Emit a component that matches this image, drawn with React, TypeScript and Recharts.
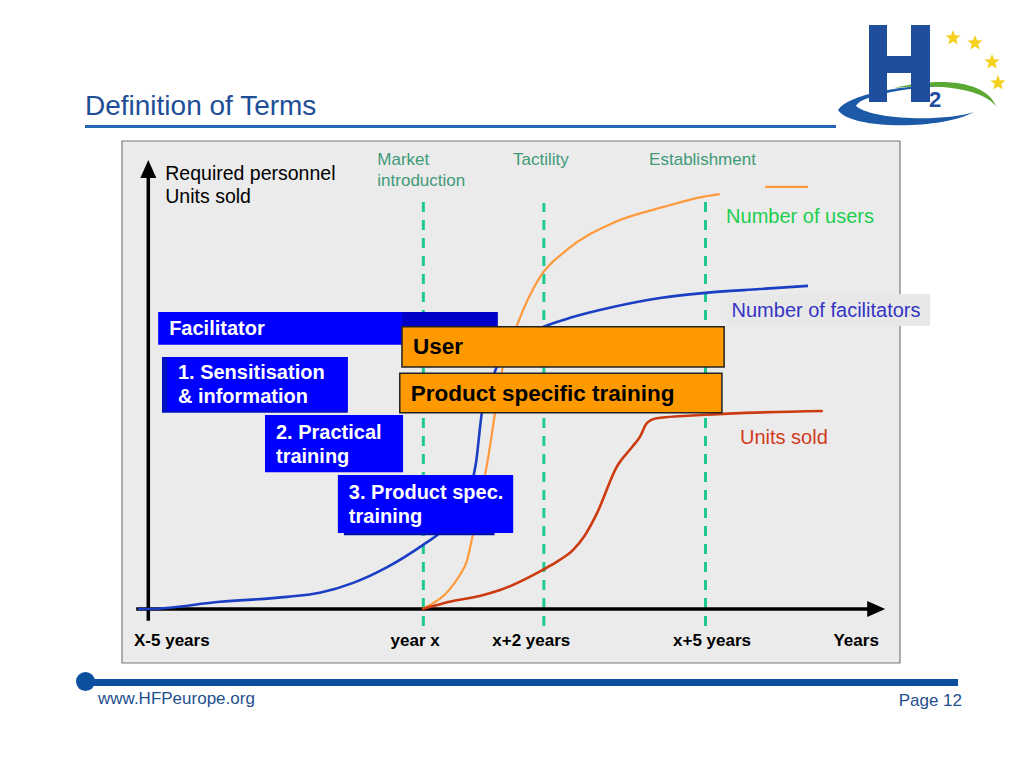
import React from "react";
import {
  ComposedChart,
  Line,
  XAxis,
  YAxis,
  ReferenceArea,
  ReferenceLine,
  ReferenceDot,
} from "recharts";

// x = years relative to market introduction (year x = 0), y = relative amount
const facilitators = [
  { x: -5.21, y: 0 }, { x: -5.04, y: 0 }, { x: -3.71, y: 1.6 }, { x: -2.49, y: 2.7 },
  { x: -1.89, y: 3.6 }, { x: -1.28, y: 5.8 }, { x: -0.66, y: 9.3 }, { x: -0.01, y: 14.2 },
  { x: 0.3, y: 16.9 }, { x: 0.63, y: 20.9 }, { x: 0.85, y: 26.4 }, { x: 0.96, y: 32.4 },
  { x: 1.07, y: 43.8 }, { x: 1.22, y: 49.8 }, { x: 1.34, y: 53.8 }, { x: 1.67, y: 59.3 },
  { x: 2.13, y: 62.4 }, { x: 2.68, y: 64.7 }, { x: 3.46, y: 67.1 }, { x: 4.32, y: 69.1 },
  { x: 5.1, y: 70.2 }, { x: 6.14, y: 71.1 }, { x: 7.02, y: 71.8 },
];

const users = [
  { x: -0.02, y: 0 }, { x: 0.18, y: 1.3 }, { x: 0.4, y: 3.3 }, { x: 0.54, y: 5.3 },
  { x: 0.67, y: 7.6 }, { x: 0.8, y: 10.9 }, { x: 0.91, y: 16.9 }, { x: 1.03, y: 24.2 },
  { x: 1.16, y: 32 }, { x: 1.31, y: 43.6 }, { x: 1.45, y: 53.8 }, { x: 1.71, y: 63.1 },
  { x: 2.13, y: 73.8 }, { x: 2.62, y: 79.8 }, { x: 3.46, y: 85.8 }, { x: 4.37, y: 89.3 },
  { x: 5.1, y: 91.6 }, { x: 5.41, y: 92.2 },
];

const usersTail = [
  { x: 6.24, y: 93.8 }, { x: 7.02, y: 93.8 },
];

const unitsSold = [
  { x: -0.02, y: 0 }, { x: 0.54, y: 1.8 }, { x: 1.03, y: 2.9 }, { x: 1.4, y: 4.2 },
  { x: 2.18, y: 8.7 }, { x: 2.49, y: 10.9 }, { x: 2.73, y: 13.1 }, { x: 2.95, y: 16.4 },
  { x: 3.17, y: 21.3 }, { x: 3.53, y: 31.6 }, { x: 3.81, y: 36 }, { x: 3.95, y: 38.2 },
  { x: 4.08, y: 41.3 }, { x: 4.26, y: 42.4 }, { x: 5.05, y: 43.1 }, { x: 7.29, y: 44 },
];

const phases = [
  { name: ["Market", "introduction"], x: 0, top: 92 },
  { name: ["Tactility"], x: 2.2, top: 90.2 },
  { name: ["Establishment"], x: 5.15, top: 92 },
];

const tickYears = [-4.59, -0.15, 1.97, 5.27, 7.9];
const tickLabels = ["X-5 years", "year x", "x+2 years", "x+5 years", "Years"];

// training blocks: start/end in years, bottom/top in relative amount
const facilitatorBlocks = [
  { label: ["Facilitator"], x1: -4.84, x2: -0.39, y1: 58.7, y2: 66 },
  { label: ["1. Sensitisation", "& information"], x1: -4.77, x2: -1.38, y1: 43.6, y2: 56 },
  { label: ["2. Practical", "training"], x1: -2.89, x2: -0.37, y1: 30.4, y2: 43.1 },
  { label: ["3. Product spec.", "training"], x1: -1.56, x2: 1.64, y1: 16.9, y2: 29.8 },
];

const userBlocks = [
  { label: ["User"], x1: -0.39, x2: 5.49, y1: 53.8, y2: 62.7 },
  { label: ["Product specific training"], x1: -0.43, x2: 5.45, y1: 43.6, y2: 52.4 },
];

const FONT = "'Liberation Sans', Arial, Helvetica, sans-serif";
const TEAL = "#20c990";

function ArrowLine(props: any) {
  const { x1, y1, x2, y2 } = props;
  const dx = x2 - x1;
  const dy = y2 - y1;
  const len = Math.sqrt(dx * dx + dy * dy) || 1;
  const ux = dx / len;
  const uy = dy / len;
  const head = 18;
  const half = 8;
  const bx = x2 - ux * head;
  const by = y2 - uy * head;
  return (
    <g>
      <line x1={x1} y1={y1} x2={bx + ux} y2={by + uy} stroke="#000" strokeWidth={3.5} />
      <polygon
        points={`${x2},${y2} ${bx - uy * half},${by + ux * half} ${bx + uy * half},${by - ux * half}`}
        fill="#000"
      />
    </g>
  );
}

function BlockLabel(props: any) {
  const { viewBox, lines, color, size, dx } = props;
  if (!viewBox) return null;
  const { x, y, height } = viewBox;
  const gap = 24;
  const startY = y + height / 2 - ((lines.length - 1) * gap) / 2;
  return (
    <text fontFamily={FONT} fontWeight="bold" fontSize={size} fill={color}>
      {lines.map((l: string, i: number) => (
        <tspan key={i} x={x + dx} y={startY + i * gap} dominantBaseline="central">
          {l}
        </tspan>
      ))}
    </text>
  );
}

function PhaseLabel(props: any) {
  const { viewBox, lines, dx, dy } = props;
  if (!viewBox) return null;
  const { x, y } = viewBox;
  const anchor = lines.length > 1 ? "start" : "middle";
  return (
    <text fontFamily={FONT} fontSize={17} fill="#3f9a78" textAnchor={anchor}>
      {lines.map((l: string, i: number) => (
        <tspan key={i} x={x + dx} y={y - dy + i * 21} dominantBaseline="central">
          {l}
        </tspan>
      ))}
    </text>
  );
}

function YearLabel(props: any) {
  const { viewBox, text } = props;
  if (!viewBox) return null;
  const cx = viewBox.x + viewBox.width / 2;
  const cy = viewBox.y + viewBox.height / 2;
  return (
    <text x={cx} y={cy} textAnchor="middle" dominantBaseline="central" fontFamily={FONT} fontWeight="bold" fontSize={17} fill="#000">
      {text}
    </text>
  );
}

function AxisTitle(props: any) {
  const { viewBox } = props;
  if (!viewBox) return null;
  const { x, y } = viewBox;
  return (
    <text fontFamily={FONT} fontSize={19.5} fill="#000">
      <tspan x={x} y={y} dominantBaseline="central">Required personnel</tspan>
      <tspan x={x} y={y + 23} dominantBaseline="central">Units sold</tspan>
    </text>
  );
}

function Logo() {
  const stars = [
    [129, 30],
    [151, 35],
    [168, 54],
    [174, 75],
  ];
  return (
    <svg width={200} height={130} style={{ position: "absolute", left: 824, top: 8 }}>
      <path d="M 14 102 C 26 84, 90 76, 120 78 C 80 80, 36 88, 32 98 C 48 112, 120 114, 150 104 C 118 122, 26 122, 14 102 Z" fill="#1c5aa8" />
      <path d="M 70 80 C 120 68, 162 74, 172 98 C 156 80, 116 76, 70 80 Z" fill="#5aa832" />
      <rect x={45} y={17} width={18} height={77} fill="#1f4f9c" />
      <rect x={87} y={17} width={19} height={77} fill="#1f4f9c" />
      <rect x={59} y={48} width={32} height={17} fill="#1f4f9c" />
      <text x={105} y={99} fontFamily={FONT} fontWeight="bold" fontSize={22} fill="#1f4f9c">2</text>
      {stars.map(([cx, cy], i) => (
        <polygon
          key={i}
          fill="#f5d01e"
          points={Array.from({ length: 10 }, (_, k) => {
            const r = k % 2 === 0 ? 8 : 3.4;
            const a = -Math.PI / 2 + (k * Math.PI) / 5;
            return `${cx + r * Math.cos(a)},${cy + r * Math.sin(a)}`;
          }).join(" ")}
        />
      ))}
    </svg>
  );
}

export default function App() {
  return (
    <div style={{ position: "absolute", left: 0, top: 0, width: 1024, height: 768, background: "#fff", fontFamily: FONT }}>
      <div style={{ position: "absolute", left: 85, top: 90, fontSize: 28, color: "#1d4e96" }}>Definition of Terms</div>
      <div style={{ position: "absolute", left: 85, top: 125, width: 751, height: 3, background: "#2865b4" }} />
      <Logo />

      <ComposedChart
        width={1024}
        height={768}
        margin={{ top: 141, right: 124, bottom: 105, left: 122 }}
        style={{ position: "absolute", left: 0, top: 0 }}
      >
        <XAxis type="number" dataKey="x" domain={[-5.5, 8.7]} allowDataOverflow hide />
        <YAxis type="number" domain={[-12, 104]} allowDataOverflow hide />

        <ReferenceArea x1={-5.5} x2={8.7} y1={-12} y2={104} fill="#ebebeb" fillOpacity={1} stroke="#7a7a7a" strokeWidth={1.2} ifOverflow="visible" zIndex={-200} />
        <ReferenceArea x1={5.54} x2={9.25} y1={62.9} y2={70} fill="#e8e8e8" fillOpacity={1} stroke="none" ifOverflow="visible" zIndex={-150} />

        {phases.map((p, i) => (
          <ReferenceLine
            key={p.x}
            segment={[{ x: p.x, y: -3.8 }, { x: p.x, y: p.top }]}
            stroke={TEAL}
            strokeWidth={3}
            strokeDasharray="10 8"
            ifOverflow="visible"
            label={<PhaseLabel lines={p.name} dx={i === 0 ? -46 : -3} dy={i === 1 ? 44 : 36} />}
          />
        ))}

        <ReferenceLine segment={[{ x: -5.24, y: 0 }, { x: 8.43, y: 0 }]} ifOverflow="visible" shape={ArrowLine} />
        <ReferenceLine segment={[{ x: -5.02, y: -2.6 }, { x: -5.02, y: 99.8 }]} ifOverflow="visible" shape={ArrowLine} />

        <Line data={facilitators} dataKey="y" type="monotone" stroke="#1a3ec4" strokeWidth={2.6} dot={false} isAnimationActive={false} />
        <Line data={users} dataKey="y" type="monotone" stroke="#ff9a3c" strokeWidth={2.2} dot={false} isAnimationActive={false} />
        <Line data={usersTail} dataKey="y" type="linear" stroke="#ff9a3c" strokeWidth={2.2} dot={false} isAnimationActive={false} />
        <Line data={unitsSold} dataKey="y" type="monotone" stroke="#cc3a10" strokeWidth={2.6} dot={false} isAnimationActive={false} />

        {/* darker shading behind the blue blocks */}
        <ReferenceArea x1={-0.39} x2={1.36} y1={58.7} y2={66} fill="#0000c8" fillOpacity={1} stroke="none" zIndex={1500} />
        <ReferenceArea x1={-4.77} x2={-1.38} y1={43.6} y2={56} fill="#0010c0" fillOpacity={1} stroke="none" zIndex={1500} />
        <ReferenceArea x1={-1.45} x2={1.3} y1={16.4} y2={17.5} fill="#0010b0" fillOpacity={1} stroke="none" zIndex={1500} />
        {facilitatorBlocks.map((b, i) => (
          <ReferenceArea
            key={"f" + i}
            x1={i === 1 ? b.x1 + 0.09 : b.x1}
            x2={b.x2}
            y1={i === 1 ? b.y1 + 0.4 : b.y1}
            y2={b.y2}
            fill="#0000ff"
            fillOpacity={1}
            stroke="none"
            zIndex={1510}
            label={<BlockLabel lines={b.label} color="#fff" size={20} dx={11} />}
          />
        ))}
        {userBlocks.map((b, i) => (
          <ReferenceArea
            key={"u" + i}
            x1={b.x1}
            x2={b.x2}
            y1={b.y1}
            y2={b.y2}
            fill="#ff9900"
            fillOpacity={1}
            stroke="#222"
            strokeWidth={1.5}
            zIndex={1600}
            label={<BlockLabel lines={b.label} color="#000" size={22.5} dx={11} />}
          />
        ))}

        <ReferenceDot x={6.875} y={87.3} r={0} ifOverflow="visible" label={{ value: "Number of users", position: "center", fill: "#1ccf4f", fontSize: 20, fontFamily: FONT }} />
        <ReferenceDot x={7.35} y={66.4} r={0} ifOverflow="visible" label={{ value: "Number of facilitators", position: "center", fill: "#3434c4", fontSize: 20, fontFamily: FONT }} />
        <ReferenceDot x={6.58} y={38.2} r={0} ifOverflow="visible" label={{ value: "Units sold", position: "center", fill: "#d23a1c", fontSize: 20, fontFamily: FONT }} />
        <ReferenceDot x={-4.71} y={96.9} r={0} ifOverflow="visible" label={<AxisTitle />} />
        {tickYears.map((t, i) => (
          <ReferenceDot key={"t" + i} x={t} y={-7.1} r={0} ifOverflow="visible" label={<YearLabel text={tickLabels[i]} />} />
        ))}
      </ComposedChart>

      <div style={{ position: "absolute", left: 76, top: 672, width: 19, height: 19, borderRadius: 10, background: "#0b4f9e" }} />
      <div style={{ position: "absolute", left: 85, top: 679, width: 873, height: 7, background: "#0b4f9e" }} />
      <div style={{ position: "absolute", left: 98, top: 689, fontSize: 17, color: "#1f4f8e" }}>www.HFPeurope.org</div>
      <div style={{ position: "absolute", right: 62, top: 691, fontSize: 17, color: "#1f4f8e" }}>Page 12</div>
    </div>
  );
}
